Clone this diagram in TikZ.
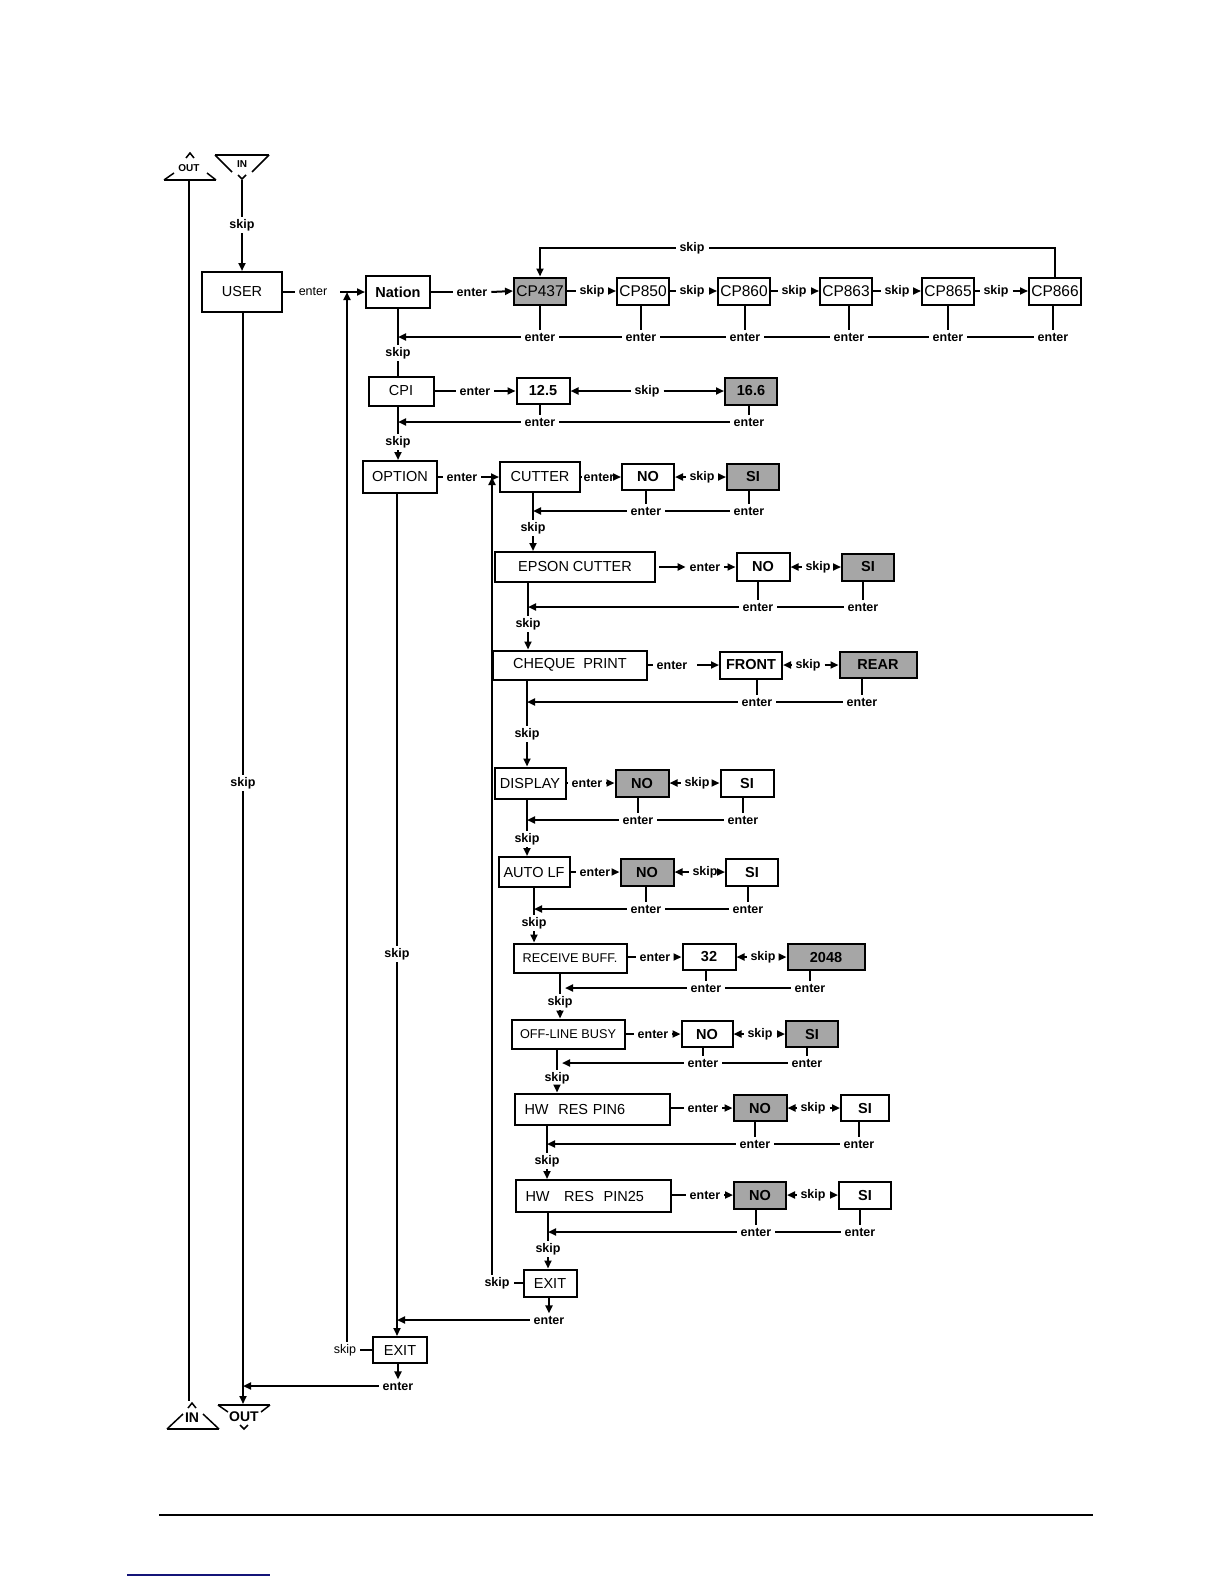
\documentclass[tikz,border=0pt]{standalone}
\usepackage{fontspec}
\setmainfont{Liberation Sans}
\usetikzlibrary{arrows.meta}
\tikzset{
 bx/.style={draw, line width=2pt, inner sep=0pt, font=\fontsize{14.5}{17}\selectfont},
 val/.style={bx, font=\bfseries\fontsize{14.5}{17}\selectfont},
 cpb/.style={bx, minimum width=52pt, minimum height=27pt, font=\fontsize{15.5}{18}\selectfont},
 sz/.style 2 args={minimum width=#1pt, minimum height=#2pt},
 shd/.style={fill=black!35},
 lb/.style={font=\bfseries\fontsize{12.5}{14}\selectfont, inner xsep=3pt, inner ysep=1.5pt},
 lbr/.style={font=\fontsize{12.5}{14}\selectfont, inner xsep=3pt, inner ysep=1.5pt},
 arr/.style={-{Triangle[length=8pt,width=7pt]}},
 sym/.style={line width=1.5pt},
}
\begin{document}
\begin{tikzpicture}[x=1pt,y=-1pt,line width=2pt]
\fill[white] (0,0) rectangle (1224,1584);
\useasboundingbox (0,0) rectangle (1224,1584);

% ---------- IN / OUT symbols ----------
\draw[sym] (164,180) -- (216,180);
\draw[sym] (164,180) -- (174,173);
\draw[sym] (216,180) -- (207,173);
\draw[sym] (186,158) -- (190,153) -- (194,158);
\node[font=\bfseries\fontsize{10}{12}\selectfont] (outtop) at (189,168) {OUT};
\draw[sym] (215,155) -- (269,155);
\draw[sym] (215,155) -- (232,172);
\draw[sym] (269,155) -- (252,172);
\draw[sym] (238,175) -- (242,179) -- (246,175);
\node[font=\bfseries\fontsize{10}{12}\selectfont] (intop) at (242,164) {IN};

\draw[sym] (218,1405) -- (270,1405);
\draw[sym] (218,1405) -- (228,1412);
\draw[sym] (270,1405) -- (261,1412);
\draw[sym] (240,1425) -- (244,1429) -- (248,1425);
\node[font=\bfseries\fontsize{14}{16}\selectfont] (outbot) at (244,1417) {OUT};
\draw[sym] (167,1429) -- (219,1429);
\draw[sym] (167,1429) -- (183,1414);
\draw[sym] (219,1429) -- (203,1414);
\draw[sym] (188,1408) -- (192,1403) -- (196,1408);
\node[font=\bfseries\fontsize{14}{16}\selectfont] (inbot) at (192,1418) {IN};

\coordinate (lt) at (189,181);
\coordinate (lbm) at (189,1401);
\draw (lt) -- (lbm);
\coordinate (inend) at (242,180);
\coordinate (outin) at (243,1404);

% ---------- USER ----------
\node[bx, sz={80}{40}] (user) at (242,292) {USER};
\node[lb] (isk) at (242,225) {skip};
\draw (inend) -- (isk.north);
\draw[arr] (isk.south) -- (isk |- user.north);
\node[lbr] (uen) at (313,292) {enter};
\draw (user.east) -- (uen.west);
\node[lb] (usk) at (243,783) {skip};
\draw (usk.north |- user.south) -- (usk.north);
\draw[arr] (usk.south) -- (outin);

% ---------- Nation row ----------
\coordinate (nj) at (347,292);
\node[bx, sz={64}{32}, font=\bfseries\fontsize{14.5}{17}\selectfont] (nation) at (398,292) {Nation};
\draw[arr] ([xshift=-7pt]nj) -- (nation.west);
\node[lb] (nen) at (472,292) {enter};
\node[cpb, shd] (cp437) at (540,291) {CP437};
\node[lb] (s1) at (592,291) {skip};
\node[cpb] (cp850) at (643,291) {CP850};
\node[lb] (s2) at (692,291) {skip};
\node[cpb] (cp860) at (744,291) {CP860};
\node[lb] (s3) at (794,291) {skip};
\node[cpb] (cp863) at (846,291) {CP863};
\node[lb] (s4) at (897,291) {skip};
\node[cpb] (cp865) at (948,291) {CP865};
\node[lb] (s5) at (996,291) {skip};
\node[cpb] (cp866) at (1055,291) {CP866};
\draw (nation.east) -- (nen.west);
\draw[arr] (nen.east) -- (cp437.west);
\draw (cp437.east) -- (s1.west); \draw[arr] (s1.east) -- (cp850.west);
\draw (cp850.east) -- (s2.west); \draw[arr] (s2.east) -- (cp860.west);
\draw (cp860.east) -- (s3.west); \draw[arr] (s3.east) -- (cp863.west);
\draw (cp863.east) -- (s4.west); \draw[arr] (s4.east) -- (cp865.west);
\draw (cp865.east) -- (s5.west); \draw[arr] (s5.east) -- (cp866.west);
\node[lb] (tsk) at (692,248) {skip};
\draw (cp866.north) |- (tsk.east);
\draw[arr] (tsk.west) -| (cp437.north);
\node[lb] (e1) at (540,337) {enter};
\node[lb] (e2) at (641,337) {enter};
\node[lb] (e3) at (745,337) {enter};
\node[lb] (e4) at (849,337) {enter};
\node[lb] (e5) at (948,337) {enter};
\node[lb] (e6) at (1053,337) {enter};
\foreach \e/\b in {e1/cp437,e2/cp850,e3/cp860,e4/cp863,e5/cp865,e6/cp866}
  \draw (\e.north |- \b.south) -- (\e.north);
\draw (e6.west) -- (e5.east); \draw (e5.west) -- (e4.east);
\draw (e4.west) -- (e3.east); \draw (e3.west) -- (e2.east);
\draw (e2.west) -- (e1.east);
\node[lb] (nsk) at (398,353) {skip};
\draw[arr] (e1.west) -- (nsk |- e1);
\draw (nation.south) -- (nsk.north);

% ---------- CPI row ----------
\node[bx, sz={65}{29}] (cpi) at (401,391) {CPI};
\draw (nsk.south) -- (nsk.south |- cpi.north);
\node[lb] (cen) at (475,391) {enter};
\node[val, sz={53}{26}] (c125) at (543,391) {12.5};
\node[lb] (csk) at (647,391) {skip};
\node[val, shd, sz={52}{27}] (c166) at (751,391) {16.6};
\draw (cpi.east) -- (cen.west);
\draw[arr] (cen.east) -- (c125.west);
\draw[arr] (csk.west) -- (c125.east);
\draw[arr] (csk.east) -- (c166.west);
\node[lb] (ce1) at (540,422) {enter};
\node[lb] (ce2) at (749,422) {enter};
\draw (ce1.north |- c125.south) -- (ce1.north);
\draw (ce2.north |- c166.south) -- (ce2.north);
\draw (ce2.west) -- (ce1.east);
\node[lb] (osk) at (398,442) {skip};
\draw[arr] (ce1.west) -- (osk |- ce1);
\draw (osk.north |- cpi.south) -- (osk.north);

% ---------- OPTION row ----------
\node[bx, sz={74}{32}] (option) at (400,477) {OPTION};
\draw[arr] (osk.south) -- (osk.south |- option.north);
\node[lb] (oen) at (462,477) {enter};
\node[bx, sz={80}{30}] (cutter) at (540,477) {CUTTER};
\coordinate (cj) at (492,477);
\draw (option.east) -- (oen.west);
\draw[arr] (oen.east) -- (cutter.west);
\node[lb, inner xsep=2pt] (cuen) at (599,477) {enter};
\node[val, sz={52}{26}] (cno) at (648,477) {NO};
\node[lb] (cusk) at (702,477) {skip};
\node[val, shd, sz={52}{26}] (csi) at (753,477) {SI};
\draw (cutter.east) -- (cuen.west);
\draw[arr] (cuen.east) -- (cno.west);
\draw[arr] (cusk.west) -- (cno.east);
\draw[arr] (cusk.east) -- (csi.west);
\node[lb] (ue1) at (646,511) {enter};
\node[lb] (ue2) at (749,511) {enter};
\draw (ue1.north |- cno.south) -- (ue1.north);
\draw (ue2.north |- csi.south) -- (ue2.north);
\draw (ue2.west) -- (ue1.east);
\node[lb] (ctsk) at (533,528) {skip};
\draw[arr] (ue1.west) -- (ctsk |- ue1);
\draw (ctsk.north |- cutter.south) -- (ctsk.north);

% ---------- EPSON CUTTER ----------
\node[bx, sz={160}{30}] (epson) at (575,567) {EPSON CUTTER};
\draw[arr] (ctsk.south) -- (ctsk.south |- epson.north);
\node[lb] (epen) at (705,567) {enter};
\node[val, sz={53}{28}] (eno) at (763,567) {NO};
\node[lb] (esk) at (818,567) {skip};
\node[val, shd, sz={52}{27}] (esi) at (868,567) {SI};
\draw[arr] ([xshift=3pt]epson.east) -- (epen.west);
\draw[arr] (epen.east) -- (eno.west);
\draw[arr] (esk.west) -- (eno.east);
\draw[arr] (esk.east) -- (esi.west);
\node[lb] (pe1) at (758,607) {enter};
\node[lb] (pe2) at (863,607) {enter};
\draw (pe1.north |- eno.south) -- (pe1.north);
\draw (pe2.north |- esi.south) -- (pe2.north);
\draw (pe2.west) -- (pe1.east);
\node[lb] (epsk) at (528,624) {skip};
\draw[arr] (pe1.west) -- (epsk |- pe1);
\draw (epsk.north |- epson.south) -- (epsk.north);

% ---------- CHEQUE PRINT ----------
\node[bx, sz={154}{29}] (cheque) at (570,665) {CHEQUE\ \ PRINT};
\draw[arr] (epsk.south) -- (epsk.south |- cheque.north);
\node[lb] (chen) at (672,665) {enter};
\node[val, sz={62}{27}] (front) at (751,665) {FRONT};
\node[lb] (chsk) at (808,665) {skip};
\node[val, shd, sz={77}{26}] (rear) at (878,665) {REAR};
\draw (cheque.east) -- (chen.west);
\draw[arr] ([xshift=6pt]chen.east) -- (front.west);
\draw[arr] (chsk.west) -- (front.east);
\draw[arr] (chsk.east) -- (rear.west);
\node[lb] (he1) at (757,702) {enter};
\node[lb] (he2) at (862,702) {enter};
\draw (he1.north |- front.south) -- (he1.north);
\draw (he2.north |- rear.south) -- (he2.north);
\draw (he2.west) -- (he1.east);
\node[lb] (chsk2) at (527,734) {skip};
\draw[arr] (he1.west) -- (chsk2 |- he1);
\draw (chsk2.north |- cheque.south) -- (chsk2.north);

% ---------- DISPLAY ----------
\node[bx, sz={71}{31}] (display) at (530,783) {DISPLAY};
\draw[arr] (chsk2.south) -- (chsk2.south |- display.north);
\node[lb] (den) at (587,783) {enter};
\node[val, shd, sz={53}{27}] (dno) at (642,783) {NO};
\node[lb] (dsk) at (697,783) {skip};
\node[val, sz={53}{27}] (dsi) at (747,783) {SI};
\draw (display.east) -- (den.west);
\draw[arr] (den.east) -- (dno.west);
\draw[arr] (dsk.west) -- (dno.east);
\draw[arr] (dsk.east) -- (dsi.west);
\node[lb] (de1) at (638,820) {enter};
\node[lb] (de2) at (743,820) {enter};
\draw (de1.north |- dno.south) -- (de1.north);
\draw (de2.north |- dsi.south) -- (de2.north);
\draw (de2.west) -- (de1.east);
\node[lb] (dsk2) at (527,839) {skip};
\draw[arr] (de1.west) -- (dsk2 |- de1);
\draw (dsk2.north |- display.south) -- (dsk2.north);

% ---------- AUTO LF ----------
\node[bx, sz={71}{30}] (autolf) at (534,872) {AUTO LF};
\draw[arr] (dsk2.south) -- (dsk2.south |- autolf.north);
\node[lb] (aen) at (595,872) {enter};
\node[val, shd, sz={53}{27}] (ano) at (647,872) {NO};
\node[lb] (ask) at (705,872) {skip};
\node[val, sz={52}{27}] (asi) at (752,872) {SI};
\draw (autolf.east) -- (aen.west);
\draw[arr] (aen.east) -- (ano.west);
\draw[arr] (ask.west) -- (ano.east);
\draw[arr] (ask.east) -- (asi.west);
\node[lb] (ae1) at (646,909) {enter};
\node[lb] (ae2) at (748,909) {enter};
\draw (ae1.north |- ano.south) -- (ae1.north);
\draw (ae2.north |- asi.south) -- (ae2.north);
\draw (ae2.west) -- (ae1.east);
\node[lb] (ask2) at (534,923) {skip};
\draw[arr] (ae1.west) -- (ask2 |- ae1);
\draw (ask2.north |- autolf.south) -- (ask2.north);

% ---------- RECEIVE BUFF. ----------
\node[bx, sz={113}{29}, font=\fontsize{12.7}{15}\selectfont] (receive) at (570,958) {RECEIVE BUFF.};
\draw[arr] (ask2.south) -- (ask2.south |- receive.north);
\node[lb] (ren) at (655,957) {enter};
\node[val, sz={53}{26}] (r32) at (709,957) {32};
\node[lb] (rsk) at (763,957) {skip};
\node[val, shd, sz={77}{26}] (r2048) at (826,957) {2048};
\draw (receive.east |- ren) -- (ren.west);
\draw[arr] (ren.east) -- (r32.west);
\draw[arr] (rsk.west) -- (r32.east);
\draw[arr] (rsk.east) -- (r2048.west);
\node[lb] (re1) at (706,988) {enter};
\node[lb] (re2) at (810,988) {enter};
\draw (re1.north |- r32.south) -- (re1.north);
\draw (re2.north |- r2048.south) -- (re2.north);
\draw (re2.west) -- (re1.east);
\node[lb] (rsk2) at (560,1002) {skip};
\draw[arr] (re1.west) -- ([xshift=5pt]rsk2 |- re1);
\draw (rsk2.north |- receive.south) -- (rsk2.north);

% ---------- OFF-LINE BUSY ----------
\node[bx, sz={113}{29}, font=\fontsize{12.7}{15}\selectfont] (offline) at (568,1034) {OFF-LINE BUSY};
\draw[arr] (rsk2.south) -- (rsk2.south |- offline.north);
\node[lb] (fen) at (653,1034) {enter};
\node[val, sz={51}{26}] (fno) at (707,1034) {NO};
\node[lb] (fsk) at (760,1034) {skip};
\node[val, shd, sz={52}{26}] (fsi) at (812,1034) {SI};
\draw (offline.east) -- (fen.west);
\draw[arr] (fen.east) -- (fno.west);
\draw[arr] (fsk.west) -- (fno.east);
\draw[arr] (fsk.east) -- (fsi.west);
\node[lb] (fe1) at (703,1063) {enter};
\node[lb] (fe2) at (807,1063) {enter};
\draw (fe1.north |- fno.south) -- (fe1.north);
\draw (fe2.north |- fsi.south) -- (fe2.north);
\draw (fe2.west) -- (fe1.east);
\node[lb] (fsk2) at (557,1078) {skip};
\draw[arr] (fe1.west) -- ([xshift=5pt]fsk2 |- fe1);
\draw (fsk2.north |- offline.south) -- (fsk2.north);

% ---------- HW RES PIN6 ----------
\node[bx, text width=135pt, inner xsep=10pt, minimum height=31pt, align=left] (pin6) at (592,1109) {HW\ \ RES PIN6};
\draw[arr] (fsk2.south) -- (fsk2.south |- pin6.north);
\node[lb] (p6en) at (703,1108) {enter};
\node[val, shd, sz={53}{26}] (p6no) at (760,1108) {NO};
\node[lb] (p6sk) at (813,1108) {skip};
\node[val, sz={48}{26}] (p6si) at (865,1108) {SI};
\draw (pin6.east |- p6en) -- (p6en.west);
\draw[arr] (p6en.east) -- (p6no.west);
\draw[arr] (p6sk.west) -- (p6no.east);
\draw[arr] (p6sk.east) -- (p6si.west);
\node[lb] (pe61) at (755,1144) {enter};
\node[lb] (pe62) at (859,1144) {enter};
\draw (pe61.north |- p6no.south) -- (pe61.north);
\draw (pe62.north |- p6si.south) -- (pe62.north);
\draw (pe62.west) -- (pe61.east);
\node[lb] (p6sk2) at (547,1161) {skip};
\draw[arr] (pe61.west) -- (p6sk2 |- pe61);
\draw (p6sk2.north |- pin6.south) -- (p6sk2.north);

% ---------- HW RES PIN25 ----------
\node[bx, text width=135pt, inner xsep=10pt, minimum height=32pt, align=left] (pin25) at (593,1196) {HW\ \ \ RES\ \ PIN25};
\draw[arr] (p6sk2.south) -- (p6sk2.south |- pin25.north);
\node[lb] (p25en) at (705,1195) {enter};
\node[val, shd, sz={52}{27}] (p25no) at (760,1195) {NO};
\node[lb] (p25sk) at (813,1195) {skip};
\node[val, sz={52}{27}] (p25si) at (865,1195) {SI};
\draw (pin25.east |- p25en) -- (p25en.west);
\draw[arr] (p25en.east) -- (p25no.west);
\draw[arr] (p25sk.west) -- (p25no.east);
\draw[arr] (p25sk.east) -- (p25si.west);
\node[lb] (pe251) at (756,1232) {enter};
\node[lb] (pe252) at (860,1232) {enter};
\draw (pe251.north |- p25no.south) -- (pe251.north);
\draw (pe252.north |- p25si.south) -- (pe252.north);
\draw (pe252.west) -- (pe251.east);
\node[lb] (p25sk2) at (548,1249) {skip};
\draw[arr] (pe251.west) -- (p25sk2 |- pe251);
\draw (p25sk2.north |- pin25.south) -- (p25sk2.north);

% ---------- EXIT (option level) ----------
\node[bx, sz={53}{27}] (exit1) at (550,1283) {EXIT};
\draw[arr] (p25sk2.south) -- (p25sk2.south |- exit1.north);
\node[lb] (exsk) at (497,1283) {skip};
\draw (exit1.west) -- (exsk.east);
\draw[arr] (exsk.north -| cj) -- (cj);
\node[lb] (x1en) at (549,1320) {enter};
\draw[arr] (x1en.north |- exit1.south) -- (x1en.north);
\node[lb] (osk2) at (397,954) {skip};
\draw (osk2.north |- option.south) -- (osk2.north);
\draw[arr] (x1en.west) -- (osk2 |- x1en);

% ---------- EXIT (user level) ----------
\node[bx, sz={54}{26}] (exit2) at (400,1350) {EXIT};
\draw[arr] (osk2.south) -- (osk2.south |- exit2.north);
\node[lbr] (ex2sk) at (345,1350) {skip};
\draw (exit2.west) -- (ex2sk.east);
\draw[arr] (ex2sk.north -| nj) -- (nj);
\node[lb] (x2en) at (398,1386) {enter};
\draw[arr] (x2en.north |- exit2.south) -- (x2en.north);
\draw[arr] (x2en.west) -- (usk |- x2en);

% ---------- page rules ----------
\coordinate (r1a) at (159,1515);
\coordinate (r1b) at (1093,1515);
\draw[line width=2pt] (r1a) -- (r1b);
\coordinate (r2a) at (127,1575);
\coordinate (r2b) at (270,1575);
\draw[line width=1.6pt, color={rgb,255:red,20;green,20;blue,120}] (r2a) -- (r2b);
\end{tikzpicture}
\end{document}
